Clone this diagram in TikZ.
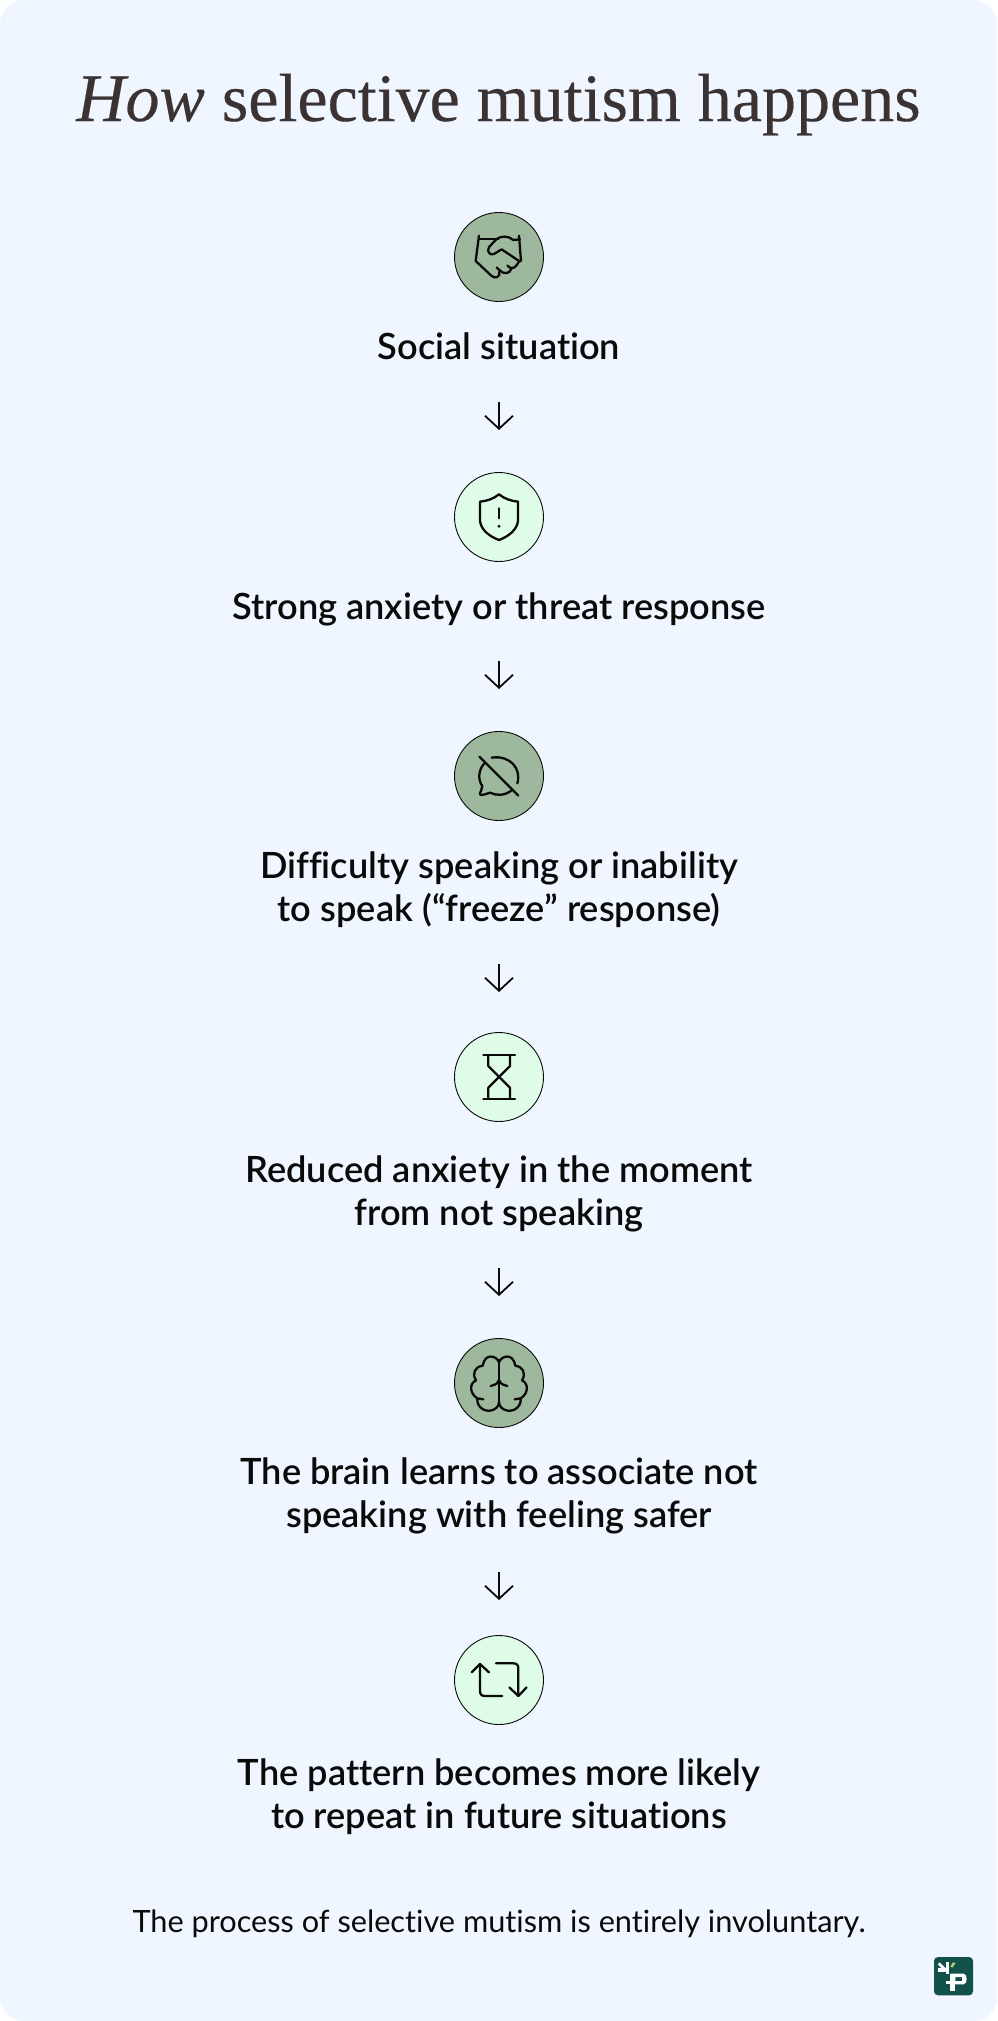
\documentclass[tikz,border=0pt]{standalone}
\usepackage{fontspec}
\usetikzlibrary{arrows.meta}
\setmainfont{Liberation Serif}[FakeBold=0.3,ItalicFeatures={FakeBold=0.3}]
\newfontfamily\bodyfont{Lato Semibold}[Ligatures=NoCommon]
\newfontfamily\plainfont{Lato}[Ligatures=NoCommon]
\definecolor{pagebg}{HTML}{F0F6FF}
\definecolor{sage}{HTML}{9DB89C}
\definecolor{mint}{HTML}{DFFCE8}
\definecolor{ink}{HTML}{0A0A0A}
\definecolor{titleink}{HTML}{3B3333}
\definecolor{logobg}{HTML}{12504A}
\definecolor{logoleaf}{HTML}{B9CE6A}
\tikzset{
  x=1pt,y=-1pt,
  badge/.style={circle,draw=ink,line width=0.9pt,minimum size=89pt,inner sep=0pt},
  sagebadge/.style={badge,fill=sage},
  mintbadge/.style={badge,fill=mint},
  stepbox/.style={align=center,text=ink,anchor=base,font=\bodyfont\fontsize{36.2}{43}\selectfont,inner sep=0pt},
  glyph/.style={draw=ink,line width=2.3pt,line cap=round,line join=round},
  flow/.style={draw=ink,line width=1.8pt,-{Straight Barb[length=13pt,width=28pt,line width=1.8pt]}},
}
\begin{document}
\begin{tikzpicture}
\useasboundingbox (0,0) rectangle (997,2021);
\fill[white] (0,0) rectangle (997,2021);
\fill[pagebg,rounded corners=24pt] (0,0) rectangle (997,2021);
\node[anchor=base,text=titleink,inner sep=0pt,font=\fontsize{68}{70}\selectfont] (title) at (498.5,121) {\textit{How} selective mutism happens};

\node[sagebadge] (c1) at (499,257) {};
\node[mintbadge] (c2) at (499,517) {};
\node[sagebadge] (c3) at (499,776) {};
\node[mintbadge] (c4) at (499,1077) {};
\node[sagebadge] (c5) at (499,1383) {};
\node[mintbadge] (c6) at (499,1680) {};

\node[stepbox] (t1) at (499,359.5) {Social situation};
\node[stepbox] (t2) at (499,619.5) {Strong anxiety or threat response};
\node[stepbox] (t3) at (499,921.5) {Difficulty speaking or inability\\to speak (“freeze” response)};
\node[stepbox] (t4) at (499,1225.5) {Reduced anxiety in the moment\\from not speaking};
\node[stepbox] (t5) at (499,1527.5) {The brain learns to associate not\\speaking with feeling safer};
\node[stepbox] (t6) at (499,1828.5) {The pattern becomes more likely\\to repeat in future situations};
\node[anchor=base,text=ink,inner sep=0pt,font=\plainfont\fontsize{30.7}{34}\selectfont] (foot) at (499,1932) {The process of selective mutism is entirely involuntary.};

\foreach \n/\y in {1/402,2/661,3/964,4/1268,5/1572}{
  \coordinate (a\n s) at (499,\y);
  \coordinate (a\n e) at (499,\y+28);
  \draw[flow] (a\n s) -- (a\n e);
}

% handshake
\begin{scope}[shift={(430,190)},x=0.3333pt,y=-0.3333pt]
\draw[glyph] (147,137) -- (137,213) -- (185,258) .. controls (195,267) and (212,262) .. (208,245);
\draw[glyph] (147,147) -- (205,147);
\draw[glyph] (267,137) -- (273,213);
\draw[glyph] (270,148) -- (250,150) .. controls (235,137) and (215,137) .. (200,147) -- (178,170) .. controls (168,185) and (180,197) .. (192,192) -- (215,178) -- (270,215);
\draw[glyph] (265,218) -- (258,228) .. controls (250,238) and (238,235) .. (232,226);
\draw[glyph] (245,234) .. controls (240,252) and (222,255) .. (208,240) -- (200,232);
\end{scope}
% shield
\begin{scope}[shift={(430,450)},x=0.3333pt,y=-0.3333pt]
\draw[glyph] (207,133) .. controls (190,147) and (170,153) .. (150,155) -- (150,212) .. controls (152,240) and (180,260) .. (207,270) .. controls (234,260) and (262,240) .. (264,212) -- (264,155) .. controls (244,153) and (224,147) .. (207,133) -- cycle;
\draw[glyph] (207,175) -- (207,205);
\fill[ink] (207,229) circle (5);
\end{scope}
% muted bubble
\begin{scope}[shift={(430,710)},x=0.3333pt,y=-0.3333pt]
\draw[glyph] (148,140) -- (265,257);
\draw[glyph] (262,220) .. controls (275,175) and (240,135) .. (185,143);
\draw[glyph] (163,160) .. controls (145,180) and (143,210) .. (157,228) .. controls (155,238) and (152,245) .. (150,250) .. controls (149,257) and (155,257) .. (180,248) .. controls (200,258) and (225,257) .. (245,241);
\end{scope}
% hourglass
\begin{scope}[shift={(430,1010)},x=0.3333pt,y=-0.3333pt]
\draw[glyph] (160,135) -- (255,135);
\draw[glyph] (160,266) -- (255,266);
\draw[glyph] (175,135) -- (175,168) -- (240,233) -- (240,266);
\draw[glyph] (240,135) -- (240,168) -- (175,233) -- (175,266);
\end{scope}
% brain
\begin{scope}[shift={(430,1315)},x=0.3333pt,y=-0.3333pt]
\draw[glyph] (207,135) -- (207,262);
\foreach \m in {0,1}{
\begin{scope}[xshift={\m*138pt},xscale={1-2*\m}]
\draw[glyph] (207,142) .. controls (200,122) and (165,112) .. (158,152) .. controls (135,155) and (125,175) .. (138,196);
\draw[glyph] (138,196) .. controls (118,205) and (118,235) .. (142,250) .. controls (138,280) and (175,300) .. (200,278) .. controls (205,272) and (207,268) .. (207,262);
\draw[glyph] (142,250) -- (160,253);
\draw[glyph] (207,195) .. controls (202,207) and (192,212) .. (182,213);
\end{scope}}
\end{scope}
% repeat
\begin{scope}[shift={(430,1610)},x=0.3333pt,y=-0.3333pt]
\draw[glyph] (125,187) -- (150,162) -- (177,187);
\draw[glyph] (150,162) -- (150,243) .. controls (150,253) and (155,258) .. (165,258) -- (217,258);
\draw[glyph] (198,160) -- (250,160) .. controls (260,160) and (265,165) .. (265,175) -- (265,258);
\draw[glyph] (238,232) -- (265,258) -- (290,232);
\end{scope}
% logo
\begin{scope}[shift={(917,1941)},x=0.3333pt,y=-0.3333pt]
\fill[logobg,rounded corners=4pt] (51,48) rectangle (168,163);
\fill[white] (100,98) rectangle (115,150);
\fill[white,even odd rule] (100,98) -- (140,98) .. controls (152,98) and (152,130) .. (140,130) -- (100,130) -- cycle (115,108) rectangle (135,120);
\fill[white] (88,120) rectangle (100,130);
\fill[white] (86,62) rectangle (95,100);
\fill[white] (62,82) rectangle (88,92);
\fill[white] (68,64) -- (88,84) -- (82,90) -- (62,70) -- cycle;
\fill[logoleaf] (100,76) -- (108,64) -- (116,66) -- (106,80) -- cycle;
\end{scope}
\end{tikzpicture}
\end{document}
